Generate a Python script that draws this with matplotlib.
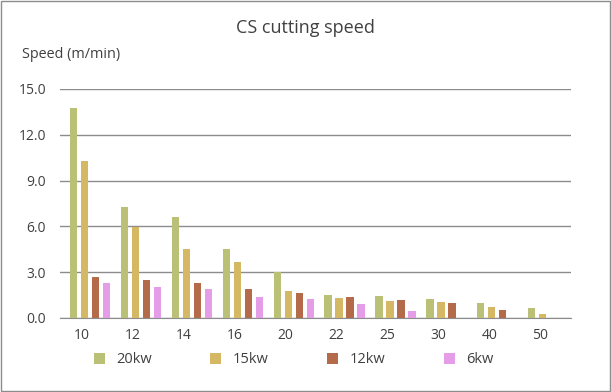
import matplotlib
matplotlib.use("Agg")
import matplotlib.pyplot as plt
import matplotlib.transforms as mtransforms
import numpy as np
from matplotlib.patches import Rectangle

plt.rcParams['font.family'] = ['Open Sans', 'DejaVu Sans']

categories = ['10', '12', '14', '16', '20', '22', '25', '30', '40', '50']
series_names = ['20kw', '15kw', '12kw', '6kw']
speed_20kw = [13.75, 7.27, 6.59, 4.54, 3.03, 1.53, 1.46, 1.26, 1.00, 0.67]
speed_15kw = [10.30, 5.98, 4.54, 3.64, 1.79, 1.33, 1.13, 1.07, 0.74, 0.28]
speed_12kw = [2.68, 2.51, 2.31, 1.92, 1.61, 1.37, 1.15, 1.00, 0.52, 0]
speed_6kw = [2.31, 2.05, 1.92, 1.35, 1.26, 0.89, 0.48, 0, 0, 0]
colors = ['#bbc077', '#d4b863', '#b46b4a', '#e69de8']
yticks = [0, 3, 6, 9, 12, 15]

txt = '#404040'
fig = plt.figure(figsize=(6.11, 3.92), dpi=100)
ax = fig.add_axes([0.0982, 0.189, 0.8363, 0.584])

x = np.arange(len(categories))
step = 0.216
w = 0.145
all_series = [speed_20kw, speed_15kw, speed_12kw, speed_6kw]
for i, (vals, name, c) in enumerate(zip(all_series, series_names, colors)):
    ax.bar(x + (i - 1.5) * step, vals, width=w, color=c, label=name, zorder=3)

ax.set_xlim(-0.593, 9.448)
ax.set_ylim(0, 15)
ax.set_yticks(yticks)
ax.set_yticklabels(['%.1f' % v for v in yticks])
ax.set_xticks(x)
ax.set_xticklabels(categories)
ax.grid(axis='y', color='#8c8c8c', linewidth=1, zorder=0)
for s in ['top', 'right', 'left']:
    ax.spines[s].set_visible(False)
ax.spines['bottom'].set_color('#8c8c8c')
ax.tick_params(length=0, labelsize=10, colors=txt, pad=7)
ax.tick_params(axis='y', pad=10)

# x labels sit a little left of the bar groups in the original
shift = mtransforms.ScaledTranslation(-8 / 100, 0, fig.dpi_scale_trans)
for lab in ax.get_xticklabels():
    lab.set_transform(lab.get_transform() + shift)

fig.text(0.5, 0.929, 'CS cutting speed', ha='center', va='center', fontsize=13, color=txt)
fig.text(0.036, 0.861, 'Speed (m/min)', ha='left', va='center', fontsize=10.4, color=txt)

leg = fig.legend(loc='center', bbox_to_anchor=(0.481, 0.082), ncol=4, frameon=False,
                 fontsize=10.5, handlelength=0.75, handleheight=0.75, columnspacing=4.0,
                 handletextpad=0.8, labelcolor=txt, borderaxespad=0)

fig.patches.append(Rectangle((0.001, 0.002), 0.997, 0.995, transform=fig.transFigure,
                             fill=False, edgecolor='#8c8c8c', linewidth=1))

fig.savefig('out.png', dpi=100)
